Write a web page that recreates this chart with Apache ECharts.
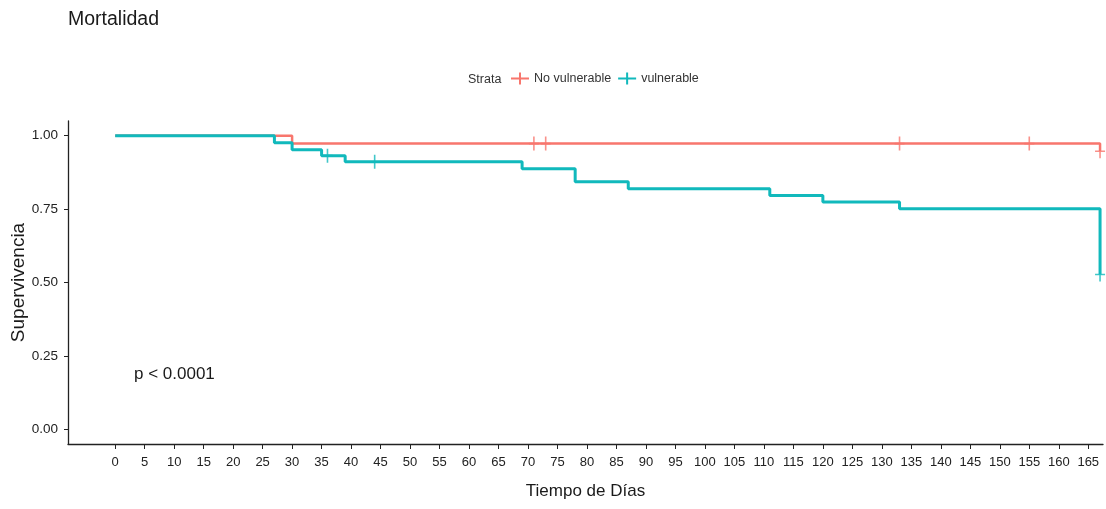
<!DOCTYPE html>
<html>
<head>
<meta charset="utf-8">
<title>Mortalidad</title>
<script src="https://cdn.jsdelivr.net/npm/echarts@6/dist/echarts.min.js"></script>
<style>
  html, body { margin: 0; padding: 0; background: #fff; }
  #chart { width: 1106px; height: 509px; }
</style>
</head>
<body>
<div id="chart"></div>
<script>
// survival curves (time, survival) -- step down at each time
var noVulnTimes = [0, 30, 167];
var noVulnSurv = [1.00, 0.973, 0.947];
var vulnTimes = [0, 27, 30, 35, 39, 69, 78, 87, 111, 120, 133, 167];
var vulnSurv = [1.00, 0.976, 0.952, 0.932, 0.911, 0.887, 0.843, 0.819, 0.796, 0.774, 0.751, 0.527];

// censored observations
var noVulnCensorTimes = [71, 73, 133, 155, 167];
var noVulnCensorSurv = [0.973, 0.973, 0.973, 0.973, 0.947];
var vulnCensorTimes = [36, 44, 167];
var vulnCensorSurv = [0.932, 0.911, 0.527];

var xTicks = [];
for (var t = 0; t <= 165; t += 5) xTicks.push(t);
var yTicks = [0, 0.25, 0.5, 0.75, 1];

var red = '#F8766D';
var teal = '#11B9BC';
var font = '"Liberation Sans", Arial, sans-serif';
var plusIcon = 'path://M0,5 L18,5 L18,7 L0,7 Z M8,0 L10,0 L10,12 L8,12 Z';
var censorMark = 'path://M0,6.2 L10,6.2 L10,7.8 L0,7.8 Z M4.2,0 L5.8,0 L5.8,14 L4.2,14 Z';

function zip(a, b) {
  return a.map(function (v, i) { return [v, b[i]]; });
}

var myChart = echarts.init(document.getElementById('chart'));
var option = {
  animation: false,
  title: {
    text: 'Mortalidad',
    left: 68,
    top: 10,
    padding: 0,
    textStyle: { fontFamily: font, fontSize: 19.5, fontWeight: 'normal', color: '#1a1a1a' }
  },
  legend: {
    data: ['No vulnerable', 'vulnerable'],
    left: 506,
    top: 67,
    itemWidth: 18,
    itemHeight: 12,
    itemGap: 7,
    icon: plusIcon,
    textStyle: { fontFamily: font, fontSize: 12.5, color: '#333' }
  },
  graphic: [
    {
      type: 'text',
      left: 468,
      top: 73,
      style: { text: 'Strata', fontFamily: font, fontSize: 12.5, fill: '#333' }
    },
    {
      type: 'text',
      left: 134,
      top: 366,
      style: { text: 'p < 0.0001', fontFamily: font, fontSize: 17, fill: '#1a1a1a' }
    }
  ],
  grid: { left: 68, right: 3, top: 121, bottom: 65, outerBoundsMode: 'none' },
  xAxis: {
    type: 'value',
    min: -8,
    max: 167.5,
    name: 'Tiempo de Días',
    nameLocation: 'middle',
    nameGap: 39,
    nameTextStyle: { fontFamily: font, fontSize: 17, color: '#1a1a1a' },
    axisLine: { show: true, onZero: false, lineStyle: { color: '#222', width: 1.3 } },
    axisTick: { show: true, length: 5, customValues: xTicks, lineStyle: { color: '#222' } },
    axisLabel: { customValues: xTicks, fontFamily: font, fontSize: 13, color: '#222', margin: 12 },
    splitLine: { show: false }
  },
  yAxis: {
    type: 'value',
    min: -0.05,
    max: 1.05,
    name: 'Supervivencia',
    nameLocation: 'middle',
    nameGap: 40,
    nameMoveOverlap: false,
    nameTextStyle: { fontFamily: font, fontSize: 19, color: '#1a1a1a' },
    axisLine: { show: true, onZero: false, lineStyle: { color: '#222', width: 1.3 } },
    axisTick: { show: true, length: 4, customValues: yTicks, lineStyle: { color: '#222' } },
    axisLabel: {
      customValues: yTicks,
      fontFamily: font, fontSize: 13.5, color: '#222', margin: 10,
      formatter: function (v) { return v.toFixed(2); }
    },
    splitLine: { show: false }
  },
  series: [
    {
      name: 'No vulnerable',
      type: 'line',
      step: 'end',
      showSymbol: false,
      color: red,
      lineStyle: { width: 2.5, color: red },
      data: zip(noVulnTimes, noVulnSurv),
      z: 2
    },
    {
      name: 'vulnerable',
      type: 'line',
      step: 'end',
      showSymbol: false,
      color: teal,
      lineStyle: { width: 3, color: teal },
      data: zip(vulnTimes, vulnSurv),
      z: 3
    },
    {
      name: 'censor-no',
      type: 'scatter',
      symbol: censorMark,
      symbolSize: [10, 14],
      itemStyle: { color: red },
      data: zip(noVulnCensorTimes, noVulnCensorSurv),
      z: 4
    },
    {
      name: 'censor-vuln',
      type: 'scatter',
      symbol: censorMark,
      symbolSize: [10, 14],
      itemStyle: { color: teal },
      data: zip(vulnCensorTimes, vulnCensorSurv),
      z: 4
    }
  ]
};
myChart.setOption(option);
</script>
</body>
</html>
